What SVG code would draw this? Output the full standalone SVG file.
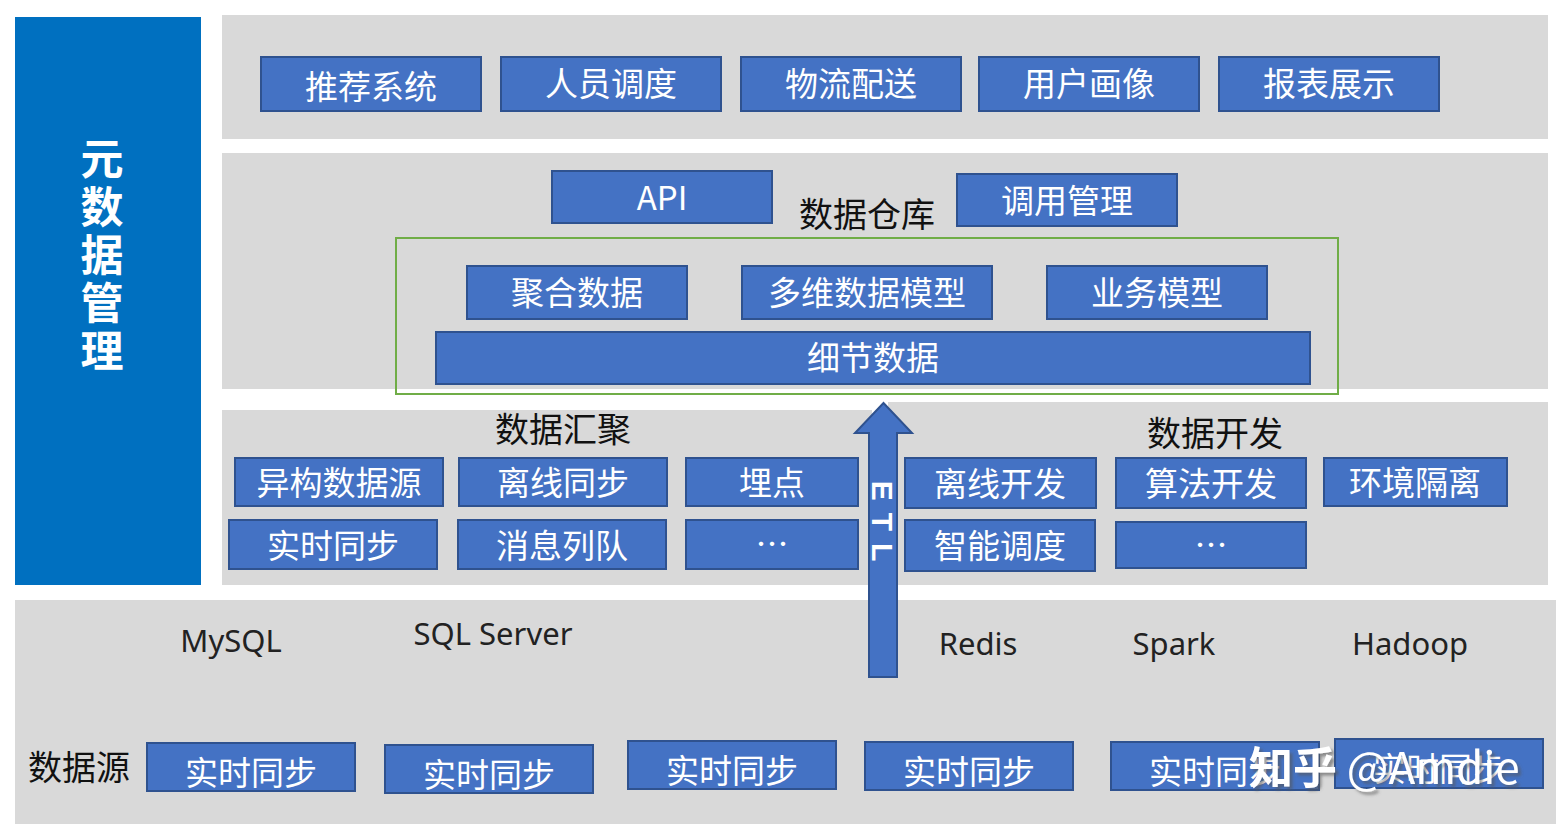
<svg xmlns="http://www.w3.org/2000/svg" width="1568" height="835" viewBox="0 0 1568 835">
<style>
.band{fill:#D9D9D9}
.box{fill:#4472C4;stroke:#2F528F;stroke-width:2}
.bt{fill:#fff;font-family:"Noto Sans CJK SC","Noto Sans",sans-serif;font-size:33px;text-anchor:middle}
.lbl{fill:#111;font-family:"Noto Sans CJK SC","Noto Sans",sans-serif;font-size:34px;text-anchor:middle}
.en{fill:#222;font-family:"Noto Sans","Noto Sans CJK SC",sans-serif;font-size:31px;text-anchor:middle}
</style>
<defs>
<filter id="sh" x="-10%" y="-30%" width="130%" height="160%">
<feDropShadow dx="3" dy="3" stdDeviation="1.5" flood-color="#555" flood-opacity="0.6"/>
</filter>
</defs>
<rect width="1568" height="835" fill="#fff"/>
<g id="meta">
<rect x="15" y="17" width="186" height="568" fill="#0070C0"/>
<text x="102" y="137" writing-mode="tb" style="writing-mode:vertical-rl" fill="#fff" font-family="'Noto Sans CJK SC',sans-serif" font-size="43" font-weight="bold" letter-spacing="5">元数据管理</text>
</g>
<g id="bands">
<rect class="band" x="222" y="15" width="1326" height="124"/>
<rect class="band" x="222" y="153" width="1326" height="236"/>
<rect class="band" x="222" y="410" width="650" height="175"/>
<rect class="band" x="888" y="402" width="660" height="183"/>
<rect class="band" x="15" y="600" width="1541" height="224"/>
</g>
<g id="app">
<g id="n-tuijian"><rect class="box" x="261" y="57" width="220" height="54"/><text class="bt" x="371" y="99">推荐系统</text></g>
<g id="n-renyuan"><rect class="box" x="501" y="57" width="220" height="54"/><text class="bt" x="611" y="96">人员调度</text></g>
<g id="n-wuliu"><rect class="box" x="741" y="57" width="220" height="54"/><text class="bt" x="851" y="96">物流配送</text></g>
<g id="n-yonghu"><rect class="box" x="979" y="57" width="220" height="54"/><text class="bt" x="1089" y="96">用户画像</text></g>
<g id="n-baobiao"><rect class="box" x="1219" y="57" width="220" height="54"/><text class="bt" x="1329" y="96">报表展示</text></g>
</g>
<g id="dw">
<g id="n-api"><rect class="box" x="552" y="171" width="220" height="52"/><text class="bt" x="662" y="210">API</text></g>
<g id="n-dwlabel"><text class="lbl" x="867" y="227">数据仓库</text></g>
<g id="n-diaoyong"><rect class="box" x="957" y="174" width="220" height="52"/><text class="bt" x="1067" y="213">调用管理</text></g>
<rect x="396" y="238" width="942" height="156" fill="none" stroke="#70AD47" stroke-width="2"/>
<g id="n-juhe"><rect class="box" x="467" y="266" width="220" height="53"/><text class="bt" x="577" y="305">聚合数据</text></g>
<g id="n-duowei"><rect class="box" x="742" y="266" width="250" height="53"/><text class="bt" x="867" y="305">多维数据模型</text></g>
<g id="n-yewu"><rect class="box" x="1047" y="266" width="220" height="53"/><text class="bt" x="1157" y="305">业务模型</text></g>
<g id="n-xijie"><rect class="box" x="436" y="332" width="874" height="52"/><text class="bt" x="873" y="370">细节数据</text></g>
</g>
<g id="collect">
<g id="n-hjlabel"><text class="lbl" x="563" y="442">数据汇聚</text></g>
<g id="n-yigou"><rect class="box" x="235" y="458" width="208" height="48"/><text class="bt" x="339" y="495">异构数据源</text></g>
<g id="n-lixiantb"><rect class="box" x="459" y="458" width="208" height="48"/><text class="bt" x="563" y="495">离线同步</text></g>
<g id="n-maidian"><rect class="box" x="686" y="458" width="172" height="48"/><text class="bt" x="772" y="495">埋点</text></g>
<g id="n-shishi"><rect class="box" x="229" y="520" width="208" height="49"/><text class="bt" x="333" y="558">实时同步</text></g>
<g id="n-xiaoxi"><rect class="box" x="458" y="520" width="208" height="49"/><text class="bt" x="562" y="558">消息列队</text></g>
<g id="n-etc1"><rect class="box" x="686" y="520" width="172" height="49"/><text class="bt" x="772" y="556" font-size="22">…</text></g>
</g>
<g id="dev">
<g id="n-kflabel"><text class="lbl" x="1215" y="446">数据开发</text></g>
<g id="n-lixiankf"><rect class="box" x="905" y="458" width="191" height="50"/><text class="bt" x="1000" y="496">离线开发</text></g>
<g id="n-suanfa"><rect class="box" x="1116" y="458" width="190" height="50"/><text class="bt" x="1211" y="496">算法开发</text></g>
<g id="n-huanjing"><rect class="box" x="1324" y="458" width="183" height="48"/><text class="bt" x="1415" y="495">环境隔离</text></g>
<g id="n-zhineng"><rect class="box" x="905" y="520" width="190" height="51"/><text class="bt" x="1000" y="558">智能调度</text></g>
<g id="n-etc2"><rect class="box" x="1116" y="522" width="190" height="46"/><text class="bt" x="1211" y="557" font-size="22">…</text></g>
</g>
<g id="connectors">
<polygon points="869,677 897,677 897,433 912,433 883.5,403 855,433 869,433" fill="#4472C4" stroke="#2F528F" stroke-width="2"/>
<text transform="translate(872,527) rotate(90)" fill="#fff" font-family="'Liberation Sans',sans-serif" font-size="30" font-weight="bold" text-anchor="middle" letter-spacing="12">ETL</text>
</g>
<g id="source">
<text class="en" x="231" y="652">MySQL</text>
<text class="en" x="493" y="645">SQL Server</text>
<text class="en" x="978" y="655">Redis</text>
<text class="en" x="1174" y="655">Spark</text>
<text class="en" x="1410" y="655">Hadoop</text>
<g id="n-sjylabel"><text class="lbl" x="79" y="780">数据源</text></g>
<g id="n-s1"><rect class="box" x="147" y="743" width="208" height="48"/><text class="bt" x="251" y="785">实时同步</text></g>
<g id="n-s2"><rect class="box" x="385" y="745" width="208" height="48"/><text class="bt" x="489" y="787">实时同步</text></g>
<g id="n-s3"><rect class="box" x="628" y="741" width="208" height="48"/><text class="bt" x="732" y="783">实时同步</text></g>
<g id="n-s4"><rect class="box" x="865" y="742" width="208" height="48"/><text class="bt" x="969" y="784">实时同步</text></g>
<g id="n-s5"><rect class="box" x="1111" y="742" width="208" height="48"/><text class="bt" x="1215" y="784">实时同步</text></g>
<g id="n-s6"><rect class="box" x="1335" y="739" width="208" height="49"/><text class="bt" x="1439" y="781">实时同步</text></g>
</g>
<g id="watermark" font-family="'Noto Sans CJK SC','Noto Sans',sans-serif" font-size="44" filter="url(#sh)">
<text x="1249" y="784" fill="#fff"><tspan font-weight="bold">知乎</tspan> @Amdie</text>
</g>
</svg>
